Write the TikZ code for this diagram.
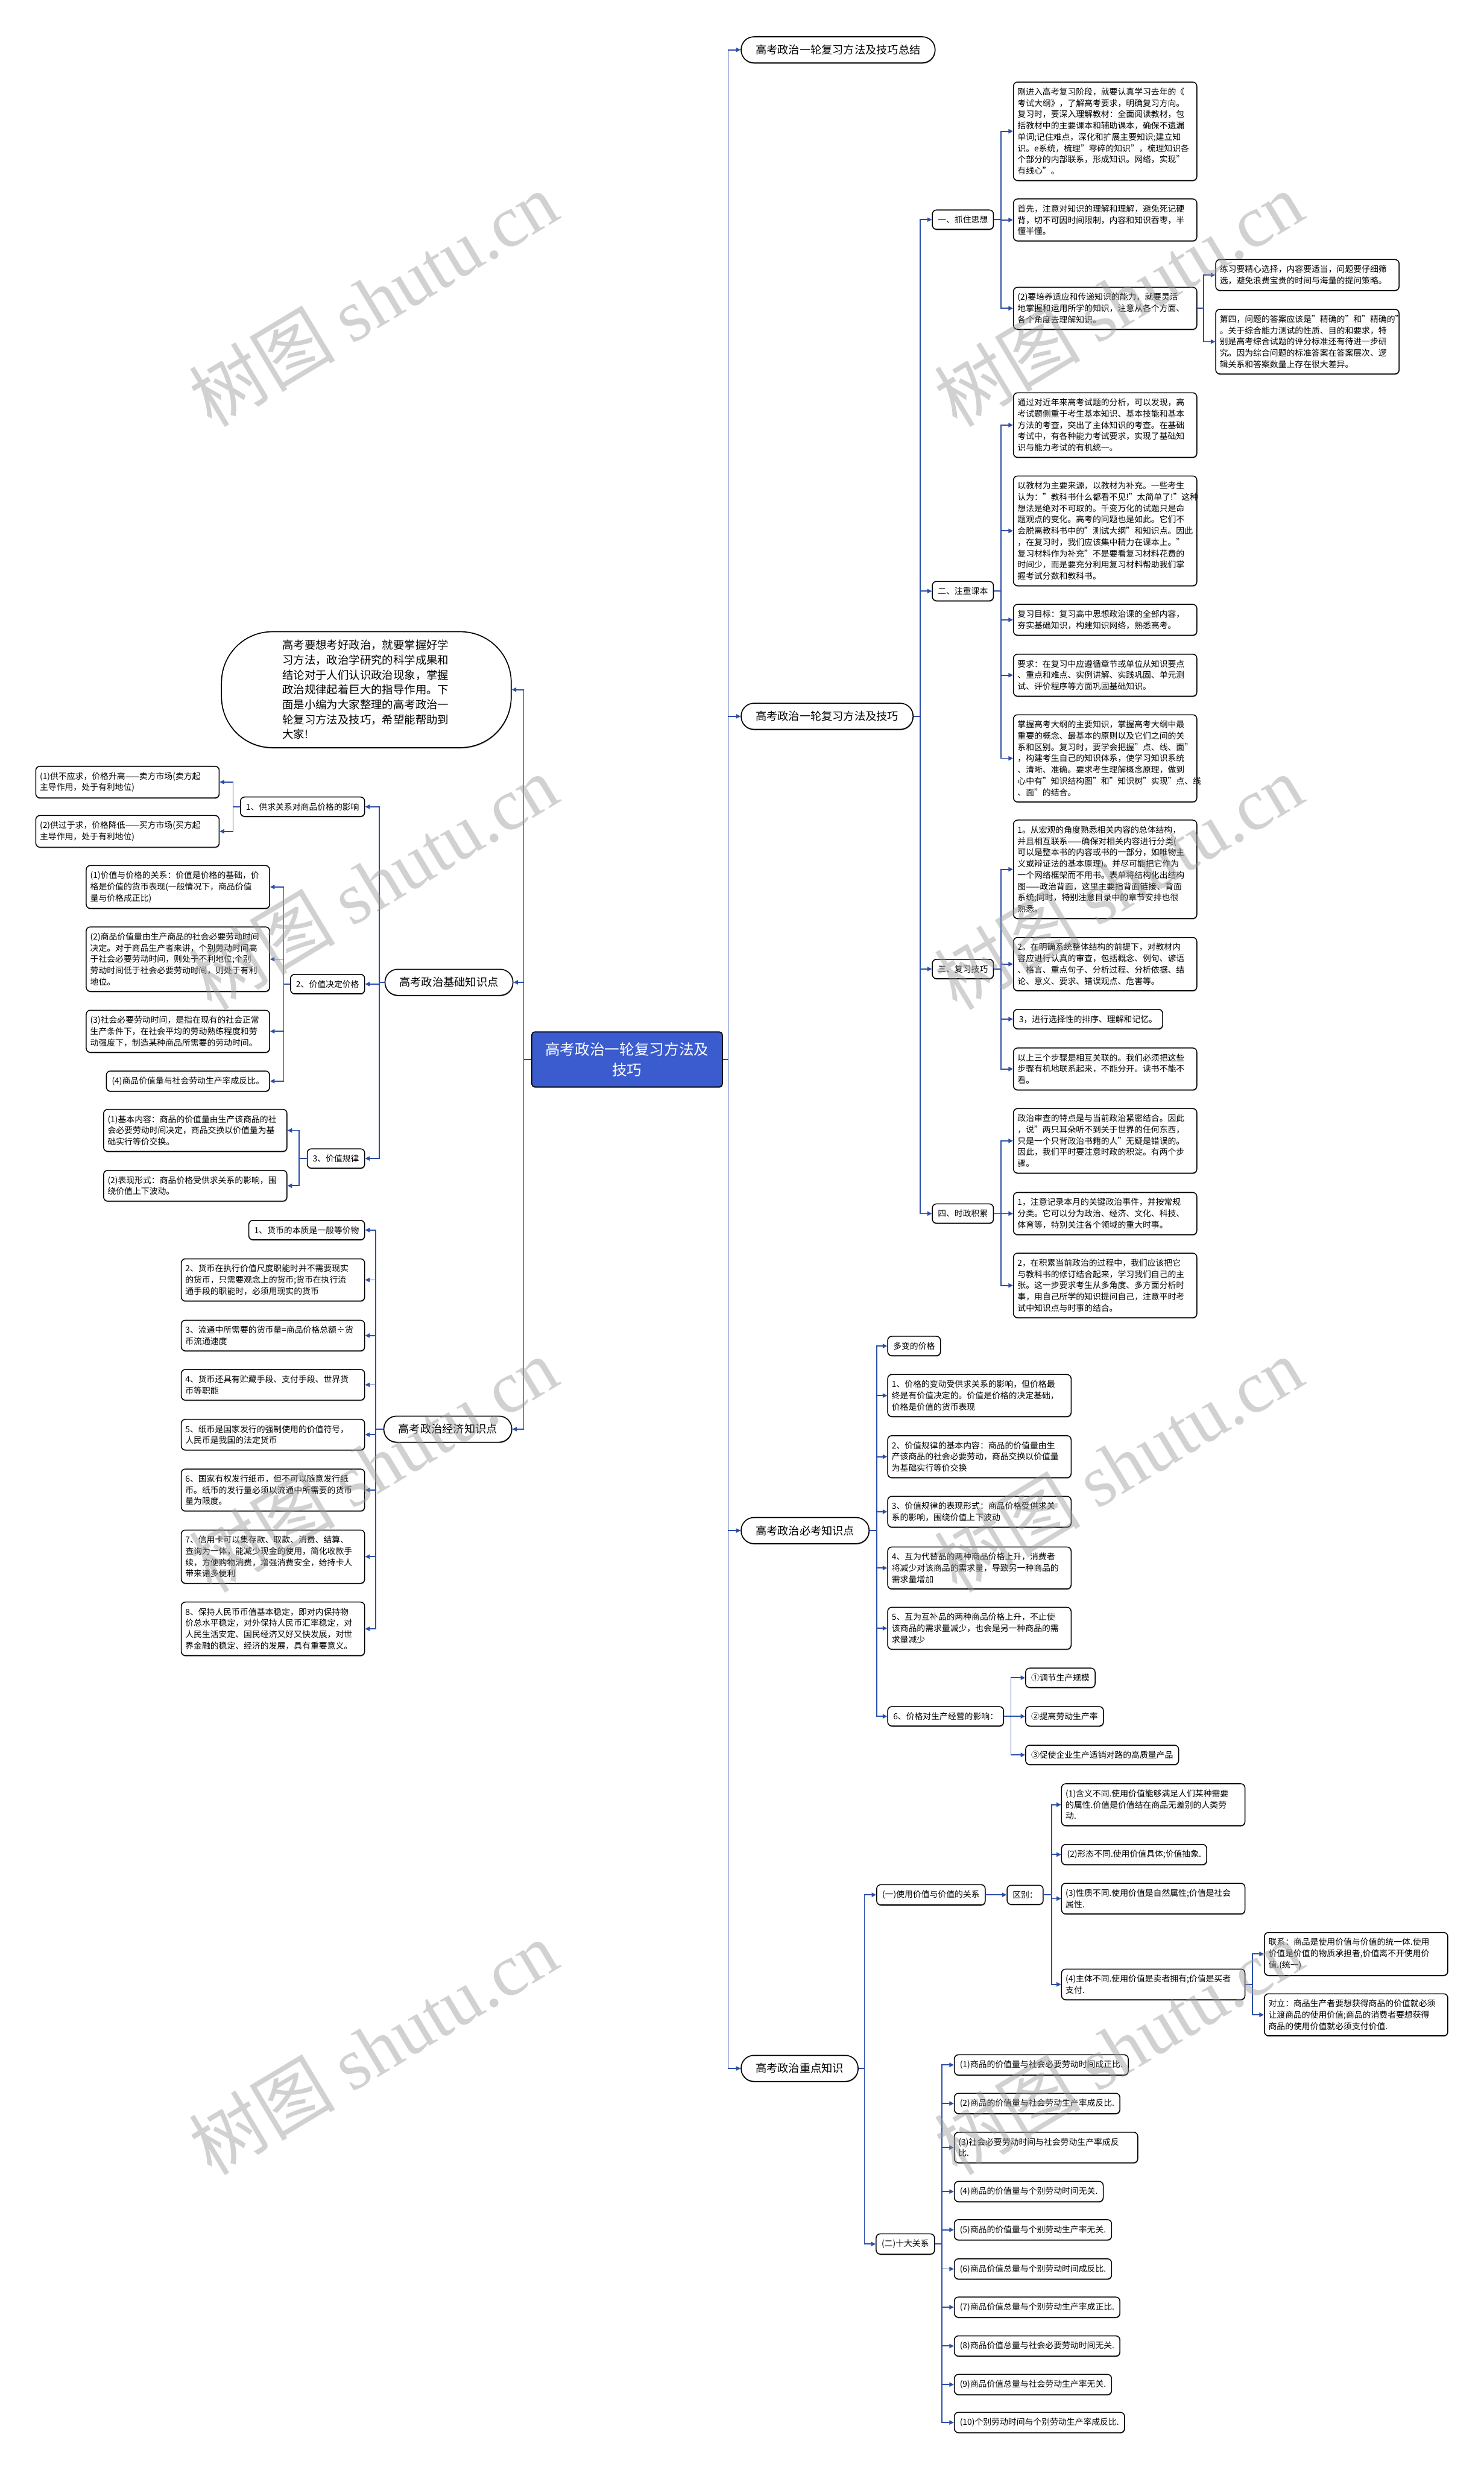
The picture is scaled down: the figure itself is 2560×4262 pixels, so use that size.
\documentclass[tikz,border=0pt]{standalone}
\usepackage{fontspec}
\setmainfont{Noto Sans CJK SC}
\newfontfamily\markserif{Liberation Serif}
\usetikzlibrary{arrows.meta, shadows}
\definecolor{linkblue}{RGB}{44,78,170}
\definecolor{rootblue}{RGB}{59,92,206}

\begin{document}
\begin{tikzpicture}[x=0.02cm, y=-0.02cm,
  boxshadow/.style={drop shadow={shadow xshift=0.3pt, shadow yshift=-0.9pt, fill=black!70, opacity=0.6}},
  leaf/.style={draw, fill=white, boxshadow, line width=0.9pt, rounded corners=4pt, text width=6.05cm, align=left, inner xsep=0.14cm, inner ysep=0.2cm, font=\fontsize{8.2pt}{11.1pt}\selectfont},
  tag/.style={draw, fill=white, boxshadow, line width=0.9pt, rounded corners=4pt, align=left, inner xsep=0.19cm, inner ysep=0.2cm, font=\fontsize{8.2pt}{11.1pt}\selectfont},
  topic/.style={draw, fill=white, boxshadow, line width=1pt, rounded corners=0.44cm, inner xsep=0.5cm, inner ysep=0pt, minimum height=0.9cm, font=\fontsize{10.8pt}{13pt}\selectfont},
  link/.style={draw=linkblue, line width=1.1pt, -{Triangle[length=4.5pt,width=4.2pt]}}]
\useasboundingbox (0,0) rectangle (2560,4262);
\fill[white] (0,0) rectangle (2560,4262);

% root
\node[draw, fill=rootblue, text=white, boxshadow, line width=1pt, rounded corners=3pt, text width=6.24cm, align=center, inner xsep=0.17cm, minimum height=1.9cm, font=\fontsize{14.6pt}{20.2pt}\selectfont] (root) at (1082,1828) {高考政治一轮复习方法及\\技巧};

% right side topics
\node[topic, anchor=west] (sumup) at (1278,86) {高考政治一轮复习方法及技巧总结};
\node[topic, anchor=west] (method) at (1278,1236) {高考政治一轮复习方法及技巧};
\node[topic, anchor=west] (must) at (1278,2641) {高考政治必考知识点};
\node[topic, anchor=west] (key) at (1278,3569) {高考政治重点知识};

% left side topics
\node[draw, fill=white, boxshadow, line width=1pt, rounded corners=1.75cm, minimum width=10cm, minimum height=4cm, text width=5.8cm, align=left, font=\fontsize{10.9pt}{14.6pt}\selectfont, anchor=east] (intro) at (883,1190) {高考要想考好政治，就要掌握好学\\习方法，政治学研究的科学成果和\\结论对于人们认识政治现象，掌握\\政治规律起着巨大的指导作用。下\\面是小编为大家整理的高考政治一\\轮复习方法及技巧，希望能帮助到\\大家!};
\node[topic, anchor=east] (base) at (886,1695) {高考政治基础知识点};
\node[topic, anchor=east] (econ) at (884,2466) {高考政治经济知识点};

% basic knowledge
\node[tag, anchor=east] (b1) at (630,1392) {1、供求关系对商品价格的影响};
\node[leaf, anchor=east] (b1a) at (379,1349.5) {(1)供不应求，价格升高——卖方市场(卖方起\\主导作用，处于有利地位)};
\node[leaf, anchor=east] (b1b) at (379,1434.5) {(2)供过于求，价格降低——买方市场(买方起\\主导作用，处于有利地位)};
\node[tag, anchor=east] (b2) at (630,1698) {2、价值决定价格};
\node[leaf, anchor=east] (b2a) at (466,1530.5) {(1)价值与价格的关系：价值是价格的基础，价\\格是价值的货币表现(一般情况下，商品价值\\量与价格成正比)};
\node[leaf, anchor=east] (b2b) at (466,1655) {(2)商品价值量由生产商品的社会必要劳动时间\\决定。对于商品生产者来讲，个别劳动时间高\\于社会必要劳动时间，则处于不利地位;个别\\劳动时间低于社会必要劳动时间，则处于有利\\地位。};
\node[leaf, anchor=east] (b2c) at (466,1779.5) {(3)社会必要劳动时间，是指在现有的社会正常\\生产条件下，在社会平均的劳动熟练程度和劳\\动强度下，制造某种商品所需要的劳动时间。};
\node[tag, anchor=east] (b2d) at (466,1865.5) {(4)商品价值量与社会劳动生产率成反比。};
\node[tag, anchor=east] (b3) at (630,1999) {3、价值规律};
\node[leaf, anchor=east] (b3a) at (496,1950.5) {(1)基本内容：商品的价值量由生产该商品的社\\会必要劳动时间决定，商品交换以价值量为基\\础实行等价交换。};
\node[leaf, anchor=east] (b3b) at (496,2046) {(2)表现形式：商品价格受供求关系的影响，围\\绕价值上下波动。};

% economics
\node[tag, anchor=east] (e1) at (630,2122.5) {1、货币的本质是一般等价物};
\node[leaf, anchor=east] (e2) at (630,2208.5) {2、货币在执行价值尺度职能时并不需要现实\\的货币，只需要观念上的货币;货币在执行流\\通手段的职能时，必须用现实的货币};
\node[leaf, anchor=east] (e3) at (630,2304.5) {3、流通中所需要的货币量=商品价格总额÷货\\币流通速度};
\node[leaf, anchor=east] (e4) at (630,2389.5) {4、货币还具有贮藏手段、支付手段、世界货\\币等职能};
\node[leaf, anchor=east] (e5) at (630,2475.5) {5、纸币是国家发行的强制使用的价值符号，\\人民币是我国的法定货币};
\node[leaf, anchor=east] (e6) at (630,2571) {6、国家有权发行纸币，但不可以随意发行纸\\币。纸币的发行量必须以流通中所需要的货币\\量为限度。};
\node[leaf, anchor=east] (e7) at (630,2686) {7、信用卡可以集存款、取款、消费、结算、\\查询为一体，能减少现金的使用，简化收款手\\续，方便购物消费，增强消费安全，给持卡人\\带来诸多便利};
\node[leaf, anchor=east] (e8) at (630,2810.5) {8、保持人民币币值基本稳定，即对内保持物\\价总水平稳定，对外保持人民币汇率稳定，对\\人民生活安定、国民经济又好又快发展，对世\\界金融的稳定、经济的发展，具有重要意义。};

% methods
\node[tag, anchor=west] (m1) at (1608,379) {一、抓住思想};
\node[tag, anchor=west] (m2) at (1608,1020) {二、注重课本};
\node[tag, anchor=west] (m3) at (1608,1672) {三、复习技巧};
\node[tag, anchor=west] (m4) at (1608,2094) {四、时政积累};

\node[leaf, anchor=west] (m1a) at (1748,226.5) {刚进入高考复习阶段，就要认真学习去年的《\\考试大纲》，了解高考要求，明确复习方向。\\复习时，要深入理解教材：全面阅读教材，包\\括教材中的主要课本和辅助课本，确保不遗漏\\单词;记住难点，深化和扩展主要知识;建立知\\识。e系统，梳理"零碎的知识"，梳理知识各\\个部分的内部联系，形成知识。网络，实现"\\有线心"。};
\node[leaf, anchor=west] (m1b) at (1748,379.5) {首先，注意对知识的理解和理解，避免死记硬\\背，切不可因时间限制，内容和知识吞枣，半\\懂半懂。};
\node[leaf, anchor=west] (m1c) at (1748,532) {(2)要培养适应和传递知识的能力，就要灵活\\地掌握和运用所学的知识，注意从各个方面、\\各个角度去理解知识。};
\node[leaf, anchor=west] (m1c1) at (2097,474.5) {练习要精心选择，内容要适当，问题要仔细筛\\选，避免浪费宝贵的时间与海量的提问策略。};
\node[leaf, anchor=west] (m1c2) at (2097,589.5) {第四，问题的答案应该是"精确的"和"精确的"\\。关于综合能力测试的性质、目的和要求，特\\别是高考综合试题的评分标准还有待进一步研\\究。因为综合问题的标准答案在答案层次、逻\\辑关系和答案数量上存在很大差异。};

\node[leaf, anchor=west] (m2a) at (1748,733.5) {通过对近年来高考试题的分析，可以发现，高\\考试题侧重于考生基本知识、基本技能和基本\\方法的考查，突出了主体知识的考查。在基础\\考试中，有各种能力考试要求，实现了基础知\\识与能力考试的有机统一。};
\node[leaf, anchor=west] (m2b) at (1748,916) {以教材为主要来源，以教材为补充。一些考生\\认为："教科书什么都看不见!"太简单了!"这种\\想法是绝对不可取的。千变万化的试题只是命\\题观点的变化。高考的问题也是如此。它们不\\会脱离教科书中的"测试大纲"和知识点。因此\\，在复习时，我们应该集中精力在课本上。"\\复习材料作为补充"不是要看复习材料花费的\\时间少，而是要充分利用复习材料帮助我们掌\\握考试分数和教科书。};
\node[leaf, anchor=west] (m2c) at (1748,1069.5) {复习目标：复习高中思想政治课的全部内容，\\夯实基础知识，构建知识网络，熟悉高考。};
\node[leaf, anchor=west] (m2d) at (1748,1165) {要求：在复习中应遵循章节或单位从知识要点\\、重点和难点、实例讲解、实践巩固、单元测\\试、评价程序等方面巩固基础知识。};
\node[leaf, anchor=west] (m2e) at (1748,1308.5) {掌握高考大纲的主要知识，掌握高考大纲中最\\重要的概念、最基本的原则以及它们之间的关\\系和区别。复习时，要学会把握"点、线、面"\\，构建考生自己的知识体系，使学习知识系统\\、清晰、准确。要求考生理解概念原理，做到\\心中有"知识结构图"和"知识树"实现"点、线\\、面"的结合。};

\node[leaf, anchor=west] (m3a) at (1748,1500) {1。从宏观的角度熟悉相关内容的总体结构，\\并且相互联系——确保对相关内容进行分类(\\可以是整本书的内容或书的一部分，如唯物主\\义或辩证法的基本原理)。并尽可能把它作为\\一个网络框架而不用书。表单将结构化出结构\\图——政治背面，这里主要指背面链接、背面\\系统;同时，特别注意目录中的章节安排也很\\熟悉。};
\node[leaf, anchor=west] (m3b) at (1748,1663.5) {2。在明确系统整体结构的前提下，对教材内\\容应进行认真的审查，包括概念、例句、谚语\\、格言、重点句子、分析过程、分析依据、结\\论、意义、要求、错误观点、危害等。};
\node[tag, anchor=west] (m3c) at (1748,1758.5) {3，进行选择性的排序、理解和记忆。};
\node[leaf, anchor=west] (m3d) at (1748,1844.5) {以上三个步骤是相互关联的。我们必须把这些\\步骤有机地联系起来，不能分开。读书不能不\\看。};

\node[leaf, anchor=west] (m4a) at (1748,1968.5) {政治审查的特点是与当前政治紧密结合。因此\\，说"两只耳朵听不到关于世界的任何东西，\\只是一个只背政治书籍的人"无疑是错误的。\\因此，我们平时要注意时政的积淀。有两个步\\骤。};
\node[leaf, anchor=west] (m4b) at (1748,2094) {1，注意记录本月的关键政治事件，并按常规\\分类。它可以分为政治、经济、文化、科技、\\体育等，特别关注各个领域的重大时事。};
\node[leaf, anchor=west] (m4c) at (1748,2218) {2，在积累当前政治的过程中，我们应该把它\\与教科书的修订结合起来，学习我们自己的主\\张。这一步要求考生从多角度、多方面分析时\\事，用自己所学的知识提问自己，注意平时考\\试中知识点与时事的结合。};

% must-know points
\node[tag, anchor=west] (p0) at (1531,2322.5) {多变的价格};
\node[leaf, anchor=west] (p1) at (1531,2408) {1、价格的变动受供求关系的影响，但价格最\\终是有价值决定的。价值是价格的决定基础，\\价格是价值的货币表现};
\node[leaf, anchor=west] (p2) at (1531,2513.5) {2、价值规律的基本内容：商品的价值量由生\\产该商品的社会必要劳动，商品交换以价值量\\为基础实行等价交换};
\node[leaf, anchor=west] (p3) at (1531,2608.5) {3、价值规律的表现形式：商品价格受供求关\\系的影响，围绕价值上下波动};
\node[leaf, anchor=west] (p4) at (1531,2705.5) {4、互为代替品的两种商品价格上升，消费者\\将减少对该商品的需求量，导致另一种商品的\\需求量增加};
\node[leaf, anchor=west] (p5) at (1531,2809.5) {5、互为互补品的两种商品价格上升，不止使\\该商品的需求量减少，也会是另一种商品的需\\求量减少};
\node[tag, anchor=west] (p6) at (1531,2961.5) {6、价格对生产经营的影响：};
\node[tag, anchor=west] (q1) at (1769,2895) {①调节生产规模};
\node[tag, anchor=west] (q2) at (1769,2961.5) {②提高劳动生产率};
\node[tag, anchor=west] (q3) at (1769,3028) {③促使企业生产适销对路的高质量产品};

% key points
\node[tag, anchor=west] (k1) at (1512,3269.5) {(一)使用价值与价值的关系};
\node[tag, anchor=west] (diff) at (1737,3269.5) {区别：};
\node[leaf, anchor=west] (d1) at (1831,3114) {(1)含义不同.使用价值能够满足人们某种需要\\的属性.价值是价值结在商品无差别的人类劳\\动.};
\node[tag, anchor=west] (d2) at (1831,3200) {(2)形态不同.使用价值具体;价值抽象.};
\node[leaf, anchor=west] (d3) at (1831,3276) {(3)性质不同.使用价值是自然属性;价值是社会\\属性.};
\node[leaf, anchor=west] (d4) at (1831,3424) {(4)主体不同.使用价值是卖者拥有;价值是买者\\支付.};
\node[leaf, anchor=west] (unity) at (2181,3371.5) {联系：商品是使用价值与价值的统一体.使用\\价值是价值的物质承担者,价值离不开使用价\\值.(统一)};
\node[leaf, anchor=west] (oppo) at (2181,3476.5) {对立：商品生产者要想获得商品的价值就必须\\让渡商品的使用价值;商品的消费者要想获得\\商品的使用价值就必须支付价值.};
\node[tag, anchor=west] (k2) at (1511,3872) {(二)十大关系};
\node[tag, anchor=west] (t1) at (1646,3563) {(1)商品的价值量与社会必要劳动时间成正比.};
\node[tag, anchor=west] (t2) at (1646,3629.5) {(2)商品的价值量与社会劳动生产率成反比.};
\node[leaf, anchor=west] (t3) at (1646,3705.5) {(3)社会必要劳动时间与社会劳动生产率成反\\比.};
\node[tag, anchor=west] (t4) at (1646,3781.5) {(4)商品的价值量与个别劳动时间无关.};
\node[tag, anchor=west] (t5) at (1646,3847.5) {(5)商品的价值量与个别劳动生产率无关.};
\node[tag, anchor=west] (t6) at (1646,3915) {(6)商品价值总量与个别劳动时间成反比.};
\node[tag, anchor=west] (t7) at (1646,3981) {(7)商品价值总量与个别劳动生产率成正比.};
\node[tag, anchor=west] (t8) at (1646,4048) {(8)商品价值总量与社会必要劳动时间无关.};
\node[tag, anchor=west] (t9) at (1646,4114.5) {(9)商品价值总量与社会劳动生产率无关.};
\node[tag, anchor=west] (t10) at (1646,4180) {(10)个别劳动时间与个别劳动生产率成反比.};

% connectors
\foreach \c in {sumup,method,must,key} \draw[link] (root.east) -- ++(9,0) |- (\c.west);
\foreach \c in {intro,base,econ} \draw[link] (root.west) -- ++(-13,0) |- (\c.east);
\foreach \c in {b1,b2,b3} \draw[link] (base.west) -- ++(-9,0) |- (\c.east);
\foreach \c in {b1a,b1b} \draw[link] (b1.west) -- ++(-12,0) |- (\c.east);
\foreach \c in {b2a,b2b,b2c,b2d} \draw[link] (b2.west) -- ++(-11,0) |- (\c.east);
\foreach \c in {b3a,b3b} \draw[link] (b3.west) -- ++(-13,0) |- (\c.east);
\foreach \c in {e1,e2,e3,e4,e5,e6,e7,e8} \draw[link] (econ.west) -- ++(-13,0) |- (\c.east);
\foreach \c in {m1,m2,m3,m4} \draw[link] (method.east) -- ++(11,0) |- (\c.west);
\foreach \c in {m1a,m1b,m1c} \draw[link] (m1.east) -- ++(12,0) |- (\c.west);
\foreach \c in {m1c1,m1c2} \draw[link] (m1c.east) -- ++(11,0) |- (\c.west);
\foreach \c in {m2a,m2b,m2c,m2d,m2e} \draw[link] (m2.east) -- ++(12,0) |- (\c.west);
\foreach \c in {m3a,m3b,m3c,m3d} \draw[link] (m3.east) -- ++(12,0) |- (\c.west);
\foreach \c in {m4a,m4b,m4c} \draw[link] (m4.east) -- ++(12,0) |- (\c.west);
\foreach \c in {p0,p1,p2,p3,p4,p5,p6} \draw[link] (must.east) -- ++(12,0) |- (\c.west);
\foreach \c in {q1,q2,q3} \draw[link] (p6.east) -- ++(12,0) |- (\c.west);
\foreach \c in {k1,k2} \draw[link] (key.east) -- ++(10,0) |- (\c.west);
\draw[link] (k1.east) -- (diff.west);
\foreach \c in {d1,d2,d3,d4} \draw[link] (diff.east) -- ++(14,0) |- (\c.west);
\foreach \c in {unity,oppo} \draw[link] (d4.east) -- ++(12,0) |- (\c.west);
\foreach \c in {t1,t2,t3,t4,t5,t6,t7,t8,t9,t10} \draw[link] (k2.east) -- ++(12,0) |- (\c.west);

% watermark
\foreach \wx/\wy [count=\i] in {644/516, 1930/516, 644/1522, 1930/1522, 644/2527, 1930/2527, 644/3533, 1930/3533}
  \node[rotate=31, text=black!40, opacity=0.45, font=\fontsize{72pt}{72pt}\selectfont] (mark\i) at (\wx,\wy) {树图 {\markserif shutu.cn}};
\end{tikzpicture}
\end{document}
